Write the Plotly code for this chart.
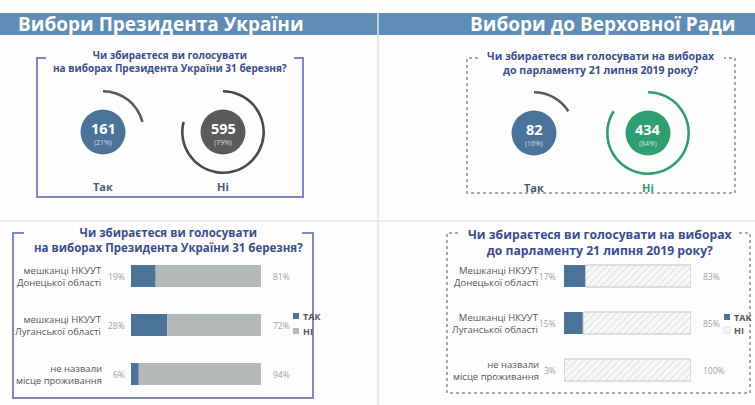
import plotly.graph_objects as go

W, H = 755, 405

# ---------------- data ----------------
header_titles = ["Вибори Президента України", "Вибори до Верховної Ради"]
q_pres = ["Чи збираєтеся ви голосувати", "на виборах Президента України 31 березня?"]
q_rada = ["Чи збираєтеся ви голосувати на виборах", "до парламенту 21 липня 2019 року?"]

pres_counts = [161, 595]
pres_pct = [21, 79]
rada_counts = [82, 434]
rada_pct = [16, 84]
answer_labels = ["Так", "Ні"]

cats_pres = ["мешканці НКУУТ<br>Донецької області", "мешканці НКУУТ<br>Луганської області",
             "не назвали<br>місце проживання"]
pres_tak = [19, 28, 6]
pres_ni = [81, 72, 94]

cats_rada = ["Мешканці НКУУТ<br>Донецької області", "Мешканці НКУУТ<br>Луганської області",
             "не назвали<br>місце проживання"]
rada_tak = [17, 15, 3]
rada_ni = [83, 85, 100]

legend_names = ["ТАК", "НІ"]

# ---------------- styles ----------------
BLUE = "#4b7399"
DARKGRAY = "#5b5b5b"
GREEN = "#2f9e70"
GRAY_BAR = "#b4b9b7"
TITLE_C = "#3a4e8c"
LABEL_C = "#555555"
PCT_C = "#a0a0a0"
HEAD_C = "#5f8db6"
FONT = "Open Sans"

fig = go.Figure()

fig.update_layout(
    width=W, height=H, margin=dict(l=0, r=0, t=0, b=0, autoexpand=False),
    paper_bgcolor="#fdfdfd", plot_bgcolor="rgba(0,0,0,0)",
    xaxis=dict(range=[0, W], visible=False, fixedrange=True, domain=[0, 1]),
    yaxis=dict(range=[H, 0], visible=False, fixedrange=True, domain=[0, 1]),
    showlegend=False,
    font=dict(family=FONT),
)
fig.add_trace(go.Scatter(x=[0, W], y=[0, H], mode="markers", marker=dict(opacity=0),
                         showlegend=False, hoverinfo="skip", xaxis="x", yaxis="y"))

shapes = []
ann = []

# header bars + separators
shapes.append(dict(type="rect", xref="x", yref="y", x0=0, x1=W, y0=13, y1=35,
                   fillcolor=HEAD_C, line=dict(width=0), layer="below"))
shapes.append(dict(type="line", xref="x", yref="y", x0=378, x1=378, y0=13, y1=H,
                   line=dict(color="#dde3ea", width=1.5)))
shapes.append(dict(type="line", xref="x", yref="y", x0=0, x1=W, y0=221, y1=221,
                   line=dict(color="#e3e7ec", width=1.5)))
ann.append(dict(xref="x", yref="y", x=161, y=24, text=f"<b>{header_titles[0]}</b>", showarrow=False,
                font=dict(size=19, color="white", family=FONT)))
ann.append(dict(xref="x", yref="y", x=603, y=24, text=f"<b>{header_titles[1]}</b>", showarrow=False,
                font=dict(size=19, color="white", family=FONT)))

def bracket(x0, y0, x1, y1, tick, color, dash, width):
    path = f"M {x0+tick},{y0} L {x0},{y0} L {x0},{y1} L {x1},{y1} L {x1},{y0} L {x1-tick},{y0}"
    return dict(type="path", xref="x", yref="y", path=path,
                line=dict(color=color, width=width, dash=dash))

shapes.append(bracket(37, 58, 303, 197, 9, "#7f87bf", "solid", 2))
shapes.append(bracket(13, 233, 313, 398, 11, "#7f87bf", "solid", 2))
shapes.append(bracket(467, 58, 735, 193, 11, "#a9a9a9", "dot", 2))
shapes.append(bracket(447, 233, 750, 393, 11, "#a9a9a9", "dot", 2))

# question titles (two lines each, one text)
def title(x, y, lines, size):
    ann.append(dict(xref="x", yref="y", x=x, y=y, text="<br>".join(f"<b>{t}</b>" for t in lines),
                    showarrow=False, align="center", font=dict(size=size, color=TITLE_C)))

title(170, 61, q_pres, 10)
title(601, 62.5, q_rada, 10.5)
title(168, 240, q_pres, 11.5)
title(600, 242.5, q_rada, 12.2)

# ---------------- circles + arcs ----------------
R_IN, R_ARC, ARC_W = 22.5, 42, 2.6

def circle_block(cx, cy, count, pct, fill, arc_color, first, label, label_color):
    shapes.append(dict(type="circle", xref="x", yref="y", x0=cx-R_IN, x1=cx+R_IN, y0=cy-R_IN, y1=cy+R_IN,
                       fillcolor=fill, line=dict(width=0)))
    ann.append(dict(xref="x", yref="y", x=cx, y=cy-4, text=f"<b>{count}</b>", showarrow=False,
                    font=dict(size=14.5, color="white")))
    ann.append(dict(xref="x", yref="y", x=cx, y=cy+10, text=f"({pct}%)", showarrow=False,
                    font=dict(size=7, color="rgba(255,255,255,0.75)")))
    ann.append(dict(xref="x", yref="y", x=cx, y=cy+54, text=f"<b>{label}</b>", showarrow=False,
                    font=dict(size=11, color=label_color)))
    vals = [pct, 100 - pct]
    fig.add_trace(go.Pie(
        values=vals, sort=False, hole=(R_ARC - ARC_W) / R_ARC,
        direction="clockwise" if first else "counterclockwise",
        marker=dict(colors=[arc_color, "rgba(0,0,0,0)"], line=dict(width=0)),
        textinfo="none", hoverinfo="skip", showlegend=False,
        domain=dict(x=[(cx - R_ARC) / W, (cx + R_ARC) / W],
                    y=[(H - cy - R_ARC) / H, (H - cy + R_ARC) / H]),
    ))

circle_block(103, 132, pres_counts[0], pres_pct[0], BLUE, "#5a5a5a", True, answer_labels[0], "#4d5a74")
circle_block(223, 132, pres_counts[1], pres_pct[1], DARKGRAY, "#4a4a4a", False, answer_labels[1], "#4d5a74")
circle_block(534, 133, rada_counts[0], rada_pct[0], BLUE, "#5a5a5a", True, answer_labels[0], "#4d5a74")
circle_block(648, 133, rada_counts[1], rada_pct[1], GREEN, GREEN, False, answer_labels[1], GREEN)

# ---------------- bar charts ----------------
rows = [0, 1, 2]

fig.add_trace(go.Bar(y=rows, x=pres_tak, orientation="h", xaxis="x2", yaxis="y2",
                     marker=dict(color=BLUE, line=dict(width=0)), width=0.45,
                     name=legend_names[0], hoverinfo="skip"))
fig.add_trace(go.Bar(y=rows, x=pres_ni, base=pres_tak, orientation="h", xaxis="x2", yaxis="y2",
                     marker=dict(color=GRAY_BAR, line=dict(width=0)), width=0.45,
                     name=legend_names[1], hoverinfo="skip"))

fig.add_trace(go.Bar(y=rows, x=rada_tak, orientation="h", xaxis="x3", yaxis="y3",
                     marker=dict(color=BLUE, line=dict(width=0)), width=0.47,
                     name=legend_names[0], hoverinfo="skip"))
fig.add_trace(go.Bar(y=rows, x=rada_ni, base=[100 - v for v in rada_ni], orientation="h",
                     xaxis="x3", yaxis="y3", width=0.47,
                     marker=dict(color="#f7f7f7",
                                 line=dict(color="#c4c4c4", width=1),
                                 pattern=dict(shape="/", fgcolor="#cfcfcf", bgcolor="#f8f8f8",
                                              size=5, solidity=0.15, fillmode="replace")),
                     name=legend_names[1], hoverinfo="skip"))

fig.update_layout(
    barmode="overlay",
    xaxis2=dict(domain=[131 / W, 261 / W], range=[0, 100], visible=False, fixedrange=True, anchor="y2"),
    yaxis2=dict(domain=[6.5 / H, 153.5 / H], range=[2.5, -0.5], visible=False, fixedrange=True, anchor="x2"),
    xaxis3=dict(domain=[564 / W, 691 / W], range=[0, 100], visible=False, fixedrange=True, anchor="y3"),
    yaxis3=dict(domain=[11.5 / H, 152.5 / H], range=[2.5, -0.5], visible=False, fixedrange=True, anchor="x3"),
)

# legends: swatch + text
def legend_item(x, y, name, color, line_color=None):
    shapes.append(dict(type="rect", xref="x", yref="y", x0=x, x1=x + 6, y0=y - 3, y1=y + 3,
                       fillcolor=color, line=dict(width=1 if line_color else 0,
                                                   color=line_color or color)))
    ann.append(dict(xref="x", yref="y", x=x + 8, y=y, text=f"<b>{name}</b>",
                    showarrow=False, xanchor="left", font=dict(size=9, color=LABEL_C)))

legend_item(293, 316, legend_names[0], BLUE)
legend_item(293, 331, legend_names[1], GRAY_BAR)
legend_item(724, 317, legend_names[0], BLUE)
legend_item(724, 330, legend_names[1], "#f4f4f4", "#e2e2e2")

for i in rows:
    ann.append(dict(xref="x", yref="y2", x=104, y=i, text=cats_pres[i], showarrow=False, xanchor="right",
                    align="right", font=dict(size=9.5, color=LABEL_C)))
    ann.append(dict(xref="x2", yref="y2", x=0, y=i, text=f"{pres_tak[i]}%", showarrow=False,
                    xanchor="right", xshift=-4, font=dict(size=8.5, color=PCT_C)))
    ann.append(dict(xref="x2", yref="y2", x=100, y=i, text=f"{pres_ni[i]}%", showarrow=False,
                    xanchor="left", xshift=10, font=dict(size=8.5, color=PCT_C)))
    ann.append(dict(xref="x", yref="y3", x=541, y=i, text=cats_rada[i], showarrow=False, xanchor="right",
                    align="right", font=dict(size=9.5, color=LABEL_C)))
    ann.append(dict(xref="x3", yref="y3", x=0, y=i, text=f"{rada_tak[i]}%", showarrow=False,
                    xanchor="right", xshift=-6, font=dict(size=8.5, color=PCT_C)))
    ann.append(dict(xref="x3", yref="y3", x=100, y=i, text=f"{rada_ni[i]}%", showarrow=False,
                    xanchor="left", xshift=10, font=dict(size=8.5, color=PCT_C)))

fig.update_layout(shapes=shapes, annotations=ann)
fig.write_html("out.html")
